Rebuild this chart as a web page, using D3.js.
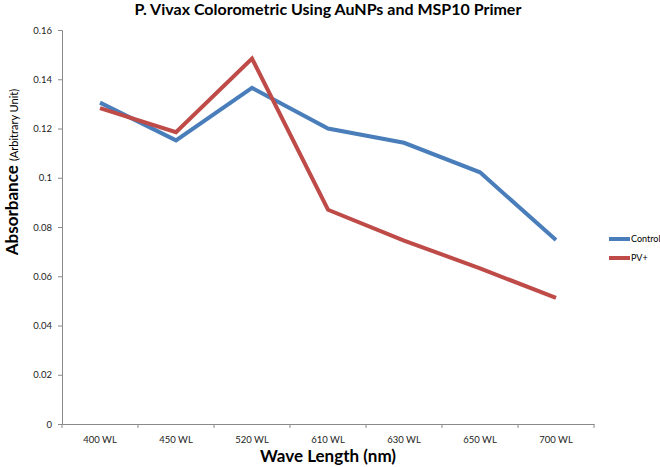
<!DOCTYPE html>
<html lang="en">

<head>
  <meta charset="utf-8">
  <title>P. Vivax Colorometric</title>
  <script src="https://d3js.org/d3.v7.min.js"></script>
  <style>
    body { margin: 0; background: white; }
    .tick text { font-family: Lato, "Open Sans", sans-serif; font-size: 9.5px; fill: #222; }
    .title { font-family: Lato, sans-serif; font-weight: bold; font-size: 16px; text-anchor: middle; }
    .axis-title { font-family: Lato, sans-serif; font-weight: bold; font-size: 17px; text-anchor: middle; }
    .legend { font-family: Lato, sans-serif; font-size: 9px; }
  </style>
</head>

<body>
  <div id="chart"></div>
  <script>
    var w = 660; // width
    var h = 467; // height
    var categories = ['400 WL', '450 WL', '520 WL', '610 WL', '630 WL', '650 WL', '700 WL'];
    var control = [0.1305, 0.1152, 0.1365, 0.1200, 0.1142, 0.1022, 0.0747];
    var pvPlus = [0.1283, 0.1185, 0.1484, 0.0870, 0.0745, 0.0632, 0.0512];
    var yTicks = [0, 0.02, 0.04, 0.06, 0.08, 0.1, 0.12, 0.14, 0.16];
    var seriesNames = ['Control', 'PV+'];
    var colors = ['#4A7EBB', '#BE4B48'];

    var margin = { left: 62, right: 66, top: 30, bottom: 43 };

    var svg = d3.select('#chart').append('svg')
      .attr('width', w)
      .attr('height', h);

    var x = d3.scaleBand()
      .domain(categories)
      .range([margin.left, w - margin.right]);

    var y = d3.scaleLinear()
      .domain([0, 0.16])
      .range([h - margin.bottom, margin.top]);

    // y axis
    var yAxis = svg.append('g')
      .attr('transform', 'translate(' + margin.left + ',0)')
      .call(d3.axisLeft(y).tickValues(yTicks).tickSize(4).tickPadding(6)
        .tickFormat(function (d) { return d === 0 ? '0' : String(+d.toFixed(2)); }));
    yAxis.selectAll('line, path').attr('stroke', '#8a8a8a');

    // x axis, ticks between categories like excel
    var xAxis = svg.append('g')
      .attr('transform', 'translate(0,' + (h - margin.bottom) + ')')
      .call(d3.axisBottom(x).tickSize(0).tickPadding(12));
    xAxis.select('path').attr('stroke', '#8a8a8a');
    var bounds = categories.map(function (c) { return x(c); }).concat([x.range()[1]]);
    xAxis.selectAll('line.sep')
      .data(bounds)
      .enter().append('line')
      .attr('class', 'sep')
      .attr('x1', function (d) { return d; })
      .attr('x2', function (d) { return d; })
      .attr('y1', 0)
      .attr('y2', 4)
      .attr('stroke', '#8a8a8a');

    var line = d3.line()
      .x(function (d, i) { return x(categories[i]) + x.bandwidth() / 2; })
      .y(function (d) { return y(d); });

    [control, pvPlus].forEach(function (s, i) {
      svg.append('path')
        .datum(s)
        .attr('fill', 'none')
        .attr('stroke', colors[i])
        .attr('stroke-width', 4)
        .attr('d', line);
    });

    // legend
    var legend = svg.selectAll('g.leg')
      .data(seriesNames)
      .enter().append('g')
      .attr('class', 'leg')
      .attr('transform', function (d, i) { return 'translate(609,' + (239 + i * 19) + ')'; });
    legend.append('line')
      .attr('x1', 0).attr('x2', 21)
      .attr('stroke', function (d, i) { return colors[i]; })
      .attr('stroke-width', 4);
    legend.append('text')
      .attr('class', 'legend')
      .attr('x', 22)
      .attr('dy', '.35em')
      .text(function (d) { return d; });

    // titles
    svg.append('text')
      .attr('class', 'title')
      .attr('x', w / 2 - 2)
      .attr('y', 15)
      .text('P. Vivax Colorometric Using AuNPs and MSP10 Primer');

    svg.append('text')
      .attr('class', 'axis-title')
      .attr('x', (margin.left + w - margin.right) / 2)
      .attr('y', h - 5)
      .text('Wave Length (nm)');

    var yt = svg.append('text')
      .attr('class', 'axis-title')
      .attr('transform', 'translate(18,172) rotate(-90)');
    yt.append('tspan').style('font-size', '17px').text('Absorbance ');
    yt.append('tspan').style('font-size', '11px').style('font-weight', 'normal').text('(Arbitrary  Unit)');
  </script>
</body>

</html>
